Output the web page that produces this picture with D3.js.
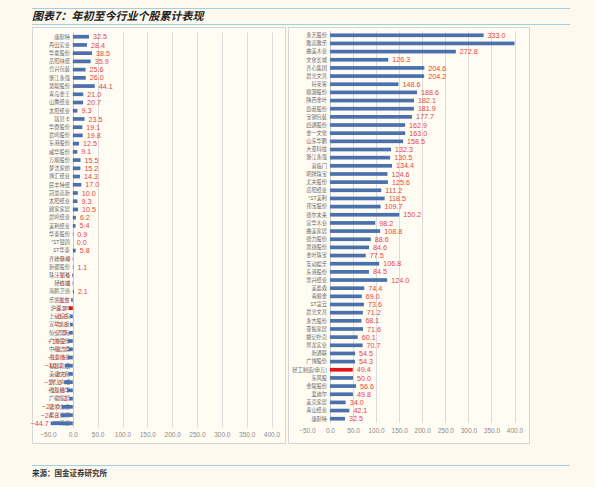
<!DOCTYPE html>
<html><head><meta charset="utf-8">
<script src="https://cdn.jsdelivr.net/npm/d3@7"></script>
<style>
html,body{margin:0;padding:0;background:#fdf9ef;}
svg{display:block;}
</style></head>
<body>
<svg id="c" width="595" height="487"></svg>
<script>
// ---- DATA ----
const leftCategories = ["康耐特","丹田实业","华夏股份","岳阳林纸","合兴包装","浙江永强","慧聪股份","青岛金王","山鹰纸业","太阳纸业","瑞贝卡","华鼎股份","晨鸣股份","东港股份","威华股份","万顺股份","梦洁家纺","博汇纸业","民丰特纸","冠豪高新","太阳纸业","顾家家居","晨鸣纸业","美利纸业","华泰股份","*ST银鸽","ST华泰","齐峰新材","新都股份","珠江钢琴","轻纺城","海鸥卫浴","乐凯胶片","沪深300","上证综指","宜华木业","恒安国际","广博股份","中顺洁柔","永安林业","福建南纸","美盛文化","浙江众成","维科精华","广夏家居","德尔未来","群兴玩具","ST海龙"];
const leftValues = [32.5,28.4,38.5,35.9,25.6,26.0,44.1,21.0,20.7,9.3,23.5,19.1,19.8,12.5,9.1,15.5,15.2,14.3,17.0,10.0,9.3,10.5,6.2,5.4,0.9,0.0,5.8,-0.6,1.1,-1.6,-0.8,2.1,-3.5,-8.2,-6.0,-5.8,-7.5,-10.2,-8.7,-10.5,-16.2,-8.9,-17.6,-11.8,-7.2,-22.0,-24.3,-44.7];
const leftHighlight = [false,false,false,false,false,false,false,false,false,false,false,false,false,false,false,false,false,false,false,false,false,false,false,false,false,false,false,false,false,false,false,false,false,true,false,false,false,false,false,false,false,false,false,false,false,false,false,false];

const rightCategories = ["永艺股份","雅高雅乐","曲美木业","文化长城","齐心集团","晨光文具","好莱客","顺灏股份","陕西金叶","劲嘉股份","宝钢包装","四通股份","金一文化","山东华鹏","大亚科技","浙江永强","喜临门","明牌珠宝","尤夫股份","岳阳纸业","*ST美利","邦宝股份","德尔未来","宜华木业","曲美家居","德力股份","恩捷股份","金叶珠宝","互动娱乐","东港股份","景兴纸业","美盈森","青顺金","ST凌云","晨光文具","永吉股份","亚振家居","姚记扑克","界龙实业","新通联","广博股份","轻工制造(申万)","东风股","金陵股份","爱迪尔","美克家居","青山纸业","康耐特"];
const rightValues = [333.0,410.0,272.8,126.3,204.6,204.2,148.6,188.6,182.1,181.9,177.7,162.9,163.0,158.5,132.3,130.5,134.4,124.6,125.6,111.2,118.5,109.7,150.2,98.2,108.8,88.6,84.6,77.5,106.8,84.5,124.0,74.4,69.0,73.6,71.2,68.1,71.6,60.1,70.7,54.5,54.3,49.4,50.0,56.6,49.8,34.0,42.1,32.5];
const rightHighlight = rightCategories.map(c => c === "轻工制造(申万)");

const xTicks = [-50,0,50,100,150,200,250,300,350,400];
const titleText = "图表7：年初至今行业个股累计表现";
const sourceText = "来源：国金证券研究所";

// ---- DRAW ----
const svg = d3.select("#c");
const fmt = d3.format(".1f");
const BLUE = "#4a70ad", RED = "#e0141b", LABEL = "#e8453c";

// header / footer lines
svg.append("line").attr("x1",32).attr("x2",570).attr("y1",8.5).attr("y2",8.5).attr("stroke","#9fcfe0").attr("stroke-width",1);
svg.append("line").attr("x1",32).attr("x2",570).attr("y1",24.5).attr("y2",24.5).attr("stroke","#9fcfe0").attr("stroke-width",1);
svg.append("line").attr("x1",32).attr("x2",570).attr("y1",465.5).attr("y2",465.5).attr("stroke","#9fcfe0").attr("stroke-width",1);
svg.append("text").attr("x",32).attr("y",20).text(titleText)
  .attr("font-family","'Noto Sans CJK SC'").attr("font-weight","bold").attr("font-style","italic")
  .attr("font-size",11).attr("fill","#222");
svg.append("text").attr("x",32).attr("y",476).text(sourceText)
  .attr("font-family","'Noto Sans CJK SC'").attr("font-weight","bold")
  .attr("font-size",7.5).attr("fill","#333");

function panel(cfg){
  const g = svg.append("g");
  g.append("rect").attr("x",cfg.box[0]+0.5).attr("y",cfg.box[1]+0.5)
    .attr("width",cfg.box[2]-cfg.box[0]).attr("height",cfg.box[3]-cfg.box[1])
    .attr("fill","#fffcf4").attr("stroke","#d6d6d6").attr("stroke-width",1);
  const x = d3.scaleLinear().domain([-50,400]).range(cfg.xr).clamp(true);
  const y = d3.scaleBand().domain(d3.range(cfg.values.length)).range(cfg.yr).paddingInner(0.55).paddingOuter(0.275);
  // gridlines
  g.selectAll(".grid").data(xTicks.filter(t=>t>-50)).join("line")
    .attr("x1",d=>Math.round(x(d))+0.5).attr("x2",d=>Math.round(x(d))+0.5)
    .attr("y1",cfg.yr[0]).attr("y2",cfg.yr[1])
    .attr("stroke",d=>d===0?"#c8c8c8":"#dcdcdc").attr("stroke-width",1);
  // x axis labels
  const ax = d3.axisBottom(x).tickValues(xTicks).tickFormat(fmt).tickSize(0).tickPadding(0);
  const axg = g.append("g").attr("transform",`translate(0,${cfg.tickY})`).call(ax);
  axg.select(".domain").remove();
  axg.selectAll("text").attr("font-family","'Liberation Sans'").attr("font-size",6.5).attr("fill","#8a8a8a").attr("dy","0");
  // category labels
  g.selectAll(".cat").data(cfg.cats).join("text")
    .attr("x",x(0)-3).attr("y",(d,i)=>y(i)+y.bandwidth()/2+1.8)
    .attr("text-anchor","end").attr("font-family","'Noto Sans CJK SC'").attr("font-size",5.2).attr("fill","#666")
    .text(d=>d);
  // bars
  g.selectAll(".bar").data(cfg.values).join("rect")
    .attr("x",d=>Math.min(x(0),x(d))).attr("width",d=>Math.abs(x(d)-x(0)))
    .attr("y",(d,i)=>y(i)).attr("height",y.bandwidth())
    .attr("fill",(d,i)=>cfg.hl[i]?RED:BLUE);
  // value labels
  g.selectAll(".val").data(cfg.values.map((v,i)=>({v,i})).filter(d=>d.v<=400 && !(cfg.hideZeroBar && false))).join("text")
    .attr("x",d=>d.v>=0 ? x(d.v)+4 : x(d.v)-2)
    .attr("y",d=>y(d.i)+y.bandwidth()/2+2.6)
    .attr("text-anchor",d=>d.v>=0?"start":"end")
    .attr("font-family","'Liberation Sans'").attr("font-size",7.2).attr("fill",LABEL)
    .text(d=>fmt(d.v));
}

panel({box:[32,27,285,443], xr:[48,271.5], yr:[32.6,427.4], tickY:437, cats:leftCategories, values:leftValues, hl:leftHighlight});
panel({box:[288,27,529,443], xr:[306.9,514.5], yr:[31.2,422.8], tickY:433, cats:rightCategories, values:rightValues, hl:rightHighlight});
</script>
</body></html>
